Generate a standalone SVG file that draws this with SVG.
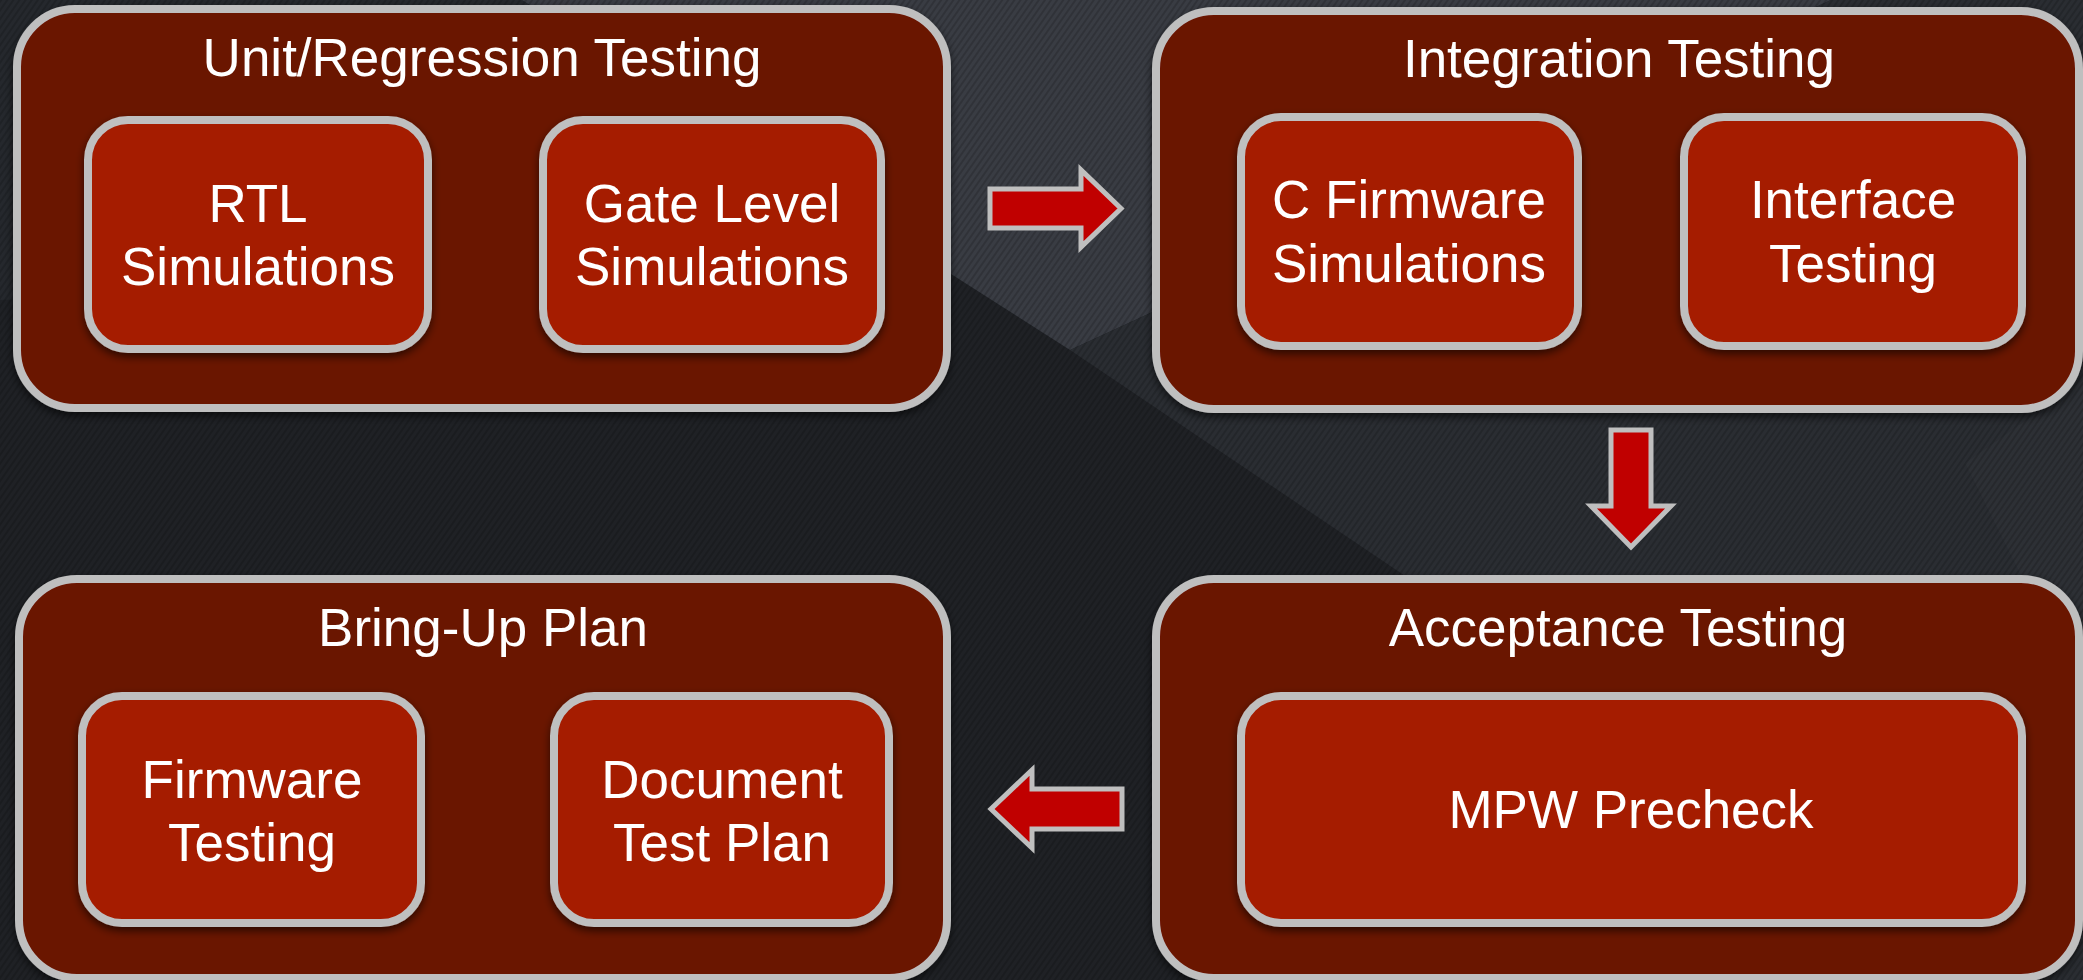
<svg xmlns="http://www.w3.org/2000/svg" width="2083" height="980" viewBox="0 0 2083 980">
  <defs>
    <style>
      .stage { fill: #6b1200; stroke: #bfbfbf; stroke-width: 8; }
      .task  { fill: #a51c00; stroke: #bfbfbf; stroke-width: 8; }
      .lbl   { font-family: "Liberation Sans", Arial, sans-serif; font-size: 53px; fill: #ffffff; text-anchor: middle; }
      .flow  { fill: #c00000; stroke: #bfbfbf; stroke-width: 5; stroke-linejoin: miter; }
    </style>
    <pattern id="weave" width="5" height="5" patternUnits="userSpaceOnUse" patternTransform="rotate(-55)">
      <rect width="5" height="2" fill="#000000" opacity="0.16"/>
    </pattern>
    <filter id="shade" x="-5%" y="-5%" width="110%" height="115%">
      <feDropShadow dx="0" dy="4" stdDeviation="4" flood-color="#000000" flood-opacity="0.6"/>
    </filter>
  </defs>

  <!-- faceted dark backdrop -->
  <g id="backdrop">
    <rect width="2083" height="980" fill="#1f2125"/>
    <polygon points="0,0 522,0 952,275 0,300" fill="#25282d"/>
    <polygon points="522,0 1831,0 1070,350" fill="#393c43"/>
    <polygon points="1831,0 2083,0 2083,1033 1070,350" fill="#2a2d32"/>
    <polygon points="1965,463 2083,380 2083,700" fill="#2d3035"/>
    <rect width="2083" height="980" fill="url(#weave)"/>
  </g>

  <!-- stage 1 -->
  <g id="unit-regression">
    <rect class="stage" x="17" y="9" width="930" height="399" rx="58" filter="url(#shade)"/>
    <text class="lbl" x="482" y="76">Unit/Regression Testing</text>
  </g>
  <g id="rtl-sim">
    <rect class="task" x="88" y="120" width="340" height="229" rx="40" filter="url(#shade)"/>
    <text class="lbl" x="258" y="222">RTL</text>
    <text class="lbl" x="258" y="285">Simulations</text>
  </g>
  <g id="gate-sim">
    <rect class="task" x="543" y="120" width="338" height="229" rx="40" filter="url(#shade)"/>
    <text class="lbl" x="712" y="222">Gate Level</text>
    <text class="lbl" x="712" y="285">Simulations</text>
  </g>

  <!-- stage 2 -->
  <g id="integration">
    <rect class="stage" x="1156" y="11" width="923" height="398" rx="58" filter="url(#shade)"/>
    <text class="lbl" x="1619" y="77">Integration Testing</text>
  </g>
  <g id="c-fw-sim">
    <rect class="task" x="1241" y="117" width="337" height="229" rx="40" filter="url(#shade)"/>
    <text class="lbl" x="1409" y="218">C Firmware</text>
    <text class="lbl" x="1409" y="282">Simulations</text>
  </g>
  <g id="interface">
    <rect class="task" x="1684" y="117" width="338" height="229" rx="40" filter="url(#shade)"/>
    <text class="lbl" x="1853" y="218">Interface</text>
    <text class="lbl" x="1853" y="282">Testing</text>
  </g>

  <!-- stage 3 -->
  <g id="acceptance">
    <rect class="stage" x="1156" y="579" width="923" height="399" rx="58" filter="url(#shade)"/>
    <text class="lbl" x="1618" y="646">Acceptance Testing</text>
  </g>
  <g id="mpw-precheck">
    <rect class="task" x="1241" y="696" width="781" height="227" rx="40" filter="url(#shade)"/>
    <text class="lbl" x="1631" y="828">MPW Precheck</text>
  </g>

  <!-- stage 4 -->
  <g id="bring-up">
    <rect class="stage" x="19" y="579" width="928" height="399" rx="58" filter="url(#shade)"/>
    <text class="lbl" x="483" y="646">Bring-Up Plan</text>
  </g>
  <g id="fw-testing">
    <rect class="task" x="82" y="696" width="339" height="227" rx="40" filter="url(#shade)"/>
    <text class="lbl" x="252" y="798">Firmware</text>
    <text class="lbl" x="252" y="861">Testing</text>
  </g>
  <g id="doc-plan">
    <rect class="task" x="554" y="696" width="335" height="227" rx="40" filter="url(#shade)"/>
    <text class="lbl" x="722" y="798">Document</text>
    <text class="lbl" x="722" y="861">Test Plan</text>
  </g>

  <!-- block arrows between stages -->
  <g id="connectors">
    <path class="flow" d="M990,189 H1081 V170 L1121,208.5 L1081,247 V228 H990 Z"/>
    <path class="flow" d="M1611,430 H1651 V506 H1671 L1631,547 L1591,506 H1611 Z"/>
    <path class="flow" d="M1122,789 H1032 V770 L991,809 L1032,848 V829 H1122 Z"/>
  </g>
</svg>
